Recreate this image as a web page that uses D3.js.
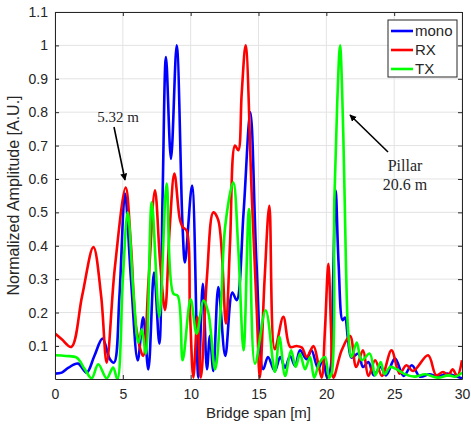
<!DOCTYPE html>
<html>
<head>
<meta charset="utf-8">
<script src="https://cdn.jsdelivr.net/npm/d3@7"></script>
<style>
  body { margin: 0; background: #fff; }
  text { font-family: "Liberation Sans", Arial, sans-serif; fill: #262626; }
</style>
</head>
<body>
<div id="chart"></div>
<script>
const WIDTH = 471, HEIGHT = 425;
const margin = { left: 55, right: 9, top: 12, bottom: 46 };

const xTicks = [0, 5, 10, 15, 20, 25, 30];
const yTicks = [0.1, 0.2, 0.3, 0.4, 0.5, 0.6, 0.7, 0.8, 0.9, 1, 1.1];

// mono (blue)
const monoX = [0, 0.5, 1.0, 1.7, 2.33, 2.9, 3.5, 4.05, 4.35, 4.75, 5.16, 5.6, 6.1, 6.5, 6.88, 7.3, 7.69, 7.93, 8.18, 8.55, 8.97, 9.4, 9.58, 10.1, 10.57, 10.9, 11.2, 11.42, 11.67, 12.04, 12.55, 13.07, 13.39, 13.9, 14.4, 14.85, 15.35, 15.7, 16.2, 16.6, 16.96, 17.33, 17.7, 18.06, 18.55, 18.9, 19.4, 19.75, 20.05, 20.3, 20.5, 20.69, 20.9, 21.2, 21.37, 21.6, 21.86, 22.36, 22.7, 23.1, 23.5, 24.0, 24.4, 25.06, 25.7, 26.3, 26.9, 27.6, 28.2, 28.9, 29.5, 30];
const monoY = [0.017, 0.02, 0.035, 0.047, 0.02, 0.07, 0.122, 0.06, 0.05, 0.25, 0.556, 0.3, 0.057, 0.186, 0.03, 0.32, 0.107, 0.55, 0.965, 0.66, 1.0, 0.46, 0.35, 0.58, 0.005, 0.286, 0.03, 0.13, 0.025, 0.276, 0.07, 0.26, 0.237, 0.5, 0.8, 0.35, 0.03, 0.067, 0.025, 0.067, 0.035, 0.07, 0.04, 0.087, 0.06, 0.087, 0.032, 0.06, 0.005, 0.03, 0.3, 0.566, 0.35, 0.177, 0.185, 0.12, 0.065, 0.077, 0.037, 0.052, 0.012, 0.037, 0.012, 0.062, 0.01, 0.042, 0.008, 0.015, 0.008, 0.017, 0.01, 0.003];

// RX (red)
const rxX = [0, 0.5, 1.2, 2.0, 2.83, 3.4, 3.81, 4.4, 5.21, 5.6, 6.0, 6.5, 6.9, 7.37, 7.75, 8.11, 8.45, 8.8, 9.2, 9.41, 9.7, 9.95, 10.2, 10.5, 10.75, 11.2, 11.67, 12.04, 12.6, 12.9, 13.27, 13.51, 13.76, 14.05, 14.5, 14.87, 15.1, 15.45, 15.8, 16.2, 16.83, 17.33, 17.8, 18.2, 18.55, 19.05, 19.4, 19.66, 19.9, 20.15, 20.35, 20.52, 21.13, 21.75, 22.2, 22.7, 23.1, 23.6, 24.1, 24.8, 25.4, 25.9, 26.4, 27.5, 28.1, 28.6, 29.0, 29.3, 29.65, 30];
const rxY = [0.137, 0.12, 0.097, 0.25, 0.396, 0.25, 0.05, 0.33, 0.574, 0.4, 0.15, 0.07, 0.3, 0.566, 0.35, 0.207, 0.45, 0.616, 0.48, 0.456, 0.446, 0.2, 0.005, 0.187, 0.005, 0.306, 0.5, 0.476, 0.167, 0.406, 0.7, 0.686, 0.855, 1.0, 0.556, 0.207, 0.005, 0.3, 0.52, 0.09, 0.187, 0.097, 0.1, 0.095, 0.067, 0.1, 0.047, 0.005, 0.15, 0.346, 0.15, 0.005, 0.087, 0.13, 0.037, 0.087, 0.01, 0.057, 0.01, 0.087, 0.017, 0.042, 0.025, 0.072, 0.012, 0.022, 0.012, 0.03, 0.01, 0.057];

// TX (green)
const txX = [0, 0.8, 1.6, 2.2, 2.7, 3.19, 3.81, 4.28, 4.6, 5.0, 5.36, 5.8, 6.15, 6.4, 6.7, 7.13, 7.69, 8.23, 8.72, 9.05, 9.41, 10.0, 10.44, 10.95, 11.3, 11.8, 12.2, 12.55, 13.14, 13.5, 13.9, 14.3, 14.74, 15.53, 16.21, 16.54, 16.96, 17.4, 17.74, 18.06, 18.43, 18.8, 19.1, 19.5, 19.9, 20.2, 20.4, 20.59, 20.81, 21.01, 21.25, 21.45, 21.62, 21.86, 22.24, 22.6, 23.2, 23.6, 24.0, 24.3, 24.7, 25.2, 25.7, 26.5, 27.3, 28.2, 29.0, 29.5, 30];
const txY = [0.072, 0.07, 0.065, 0.03, 0.003, 0.045, 0.003, 0.035, 0.0, 0.3, 0.5, 0.25, 0.11, 0.15, 0.077, 0.53, 0.187, 0.586, 0.257, 0.25, 0.057, 0.24, 0.137, 0.236, 0.2, 0.03, 0.2, 0.46, 0.59, 0.4, 0.087, 0.51, 0.047, 0.207, 0.022, 0.127, 0.01, 0.087, 0.037, 0.077, 0.03, 0.067, 0.005, 0.05, 0.067, 0.005, 0.02, 0.536, 0.835, 1.0, 0.735, 0.337, 0.137, 0.067, 0.11, 0.057, 0.077, 0.012, 0.052, 0.015, 0.037, 0.03, 0.017, 0.008, 0.015, 0.005, 0.012, 0.008, 0.02];

const seriesNames = ["mono", "RX", "TX"];
const seriesColors = ["#0000ff", "#ff0000", "#00ff00"];
const seriesX = [monoX, rxX, txX];
const seriesY = [monoY, rxY, txY];

const axisColor = "#262626";
const gridColor = "#e3e3e3";

const svg = d3.select("#chart").append("svg")
    .attr("width", WIDTH)
    .attr("height", HEIGHT);

const x = d3.scaleLinear().domain([0, 30]).range([margin.left, WIDTH - margin.right]);
const y = d3.scaleLinear().domain([0.001, 1.1]).range([HEIGHT - margin.bottom, margin.top]);

// grid
svg.append("g").selectAll("line").data(xTicks).join("line")
    .attr("x1", d => x(d)).attr("x2", d => x(d))
    .attr("y1", y.range()[0]).attr("y2", y.range()[1])
    .attr("stroke", gridColor).attr("stroke-width", 1);
svg.append("g").selectAll("line").data(yTicks).join("line")
    .attr("x1", x.range()[0]).attr("x2", x.range()[1])
    .attr("y1", d => y(d)).attr("y2", d => y(d))
    .attr("stroke", gridColor).attr("stroke-width", 1);

// clip
svg.append("clipPath").attr("id", "plotclip").append("rect")
    .attr("x", x.range()[0]).attr("y", y.range()[1])
    .attr("width", x.range()[1] - x.range()[0])
    .attr("height", y.range()[0] - y.range()[1]);

const line = d3.line()
    .x(d => x(d[0]))
    .y(d => y(d[1]))
    .curve(d3.curveCatmullRom.alpha(0.5));

const plot = svg.append("g").attr("clip-path", "url(#plotclip)");
seriesNames.forEach((name, i) => {
    const pts = seriesX[i].map((v, j) => [v, seriesY[i][j]]);
    plot.append("path")
        .datum(pts)
        .attr("d", line)
        .attr("fill", "none")
        .attr("stroke", seriesColors[i])
        .attr("stroke-width", 2.6)
        .attr("stroke-linejoin", "round");
});

// axes
const xAxis = d3.axisBottom(x).tickValues(xTicks).tickSizeInner(-4).tickSizeOuter(0).tickPadding(10);
const yAxis = d3.axisLeft(y).tickValues(yTicks).tickSizeInner(-4).tickSizeOuter(0).tickPadding(7)
    .tickFormat(d3.format("~g"));

const gx = svg.append("g").attr("transform", `translate(0,${y.range()[0]})`).call(xAxis);
const gy = svg.append("g").attr("transform", `translate(${x.range()[0]},0)`).call(yAxis);
const gxTop = svg.append("g").attr("transform", `translate(0,${y.range()[1]})`)
    .call(d3.axisTop(x).tickValues(xTicks).tickSizeInner(-4).tickSizeOuter(0).tickFormat(""));
const gyRight = svg.append("g").attr("transform", `translate(${x.range()[1]},0)`)
    .call(d3.axisRight(y).tickValues(yTicks).tickSizeInner(-4).tickSizeOuter(0).tickFormat(""));

[gx, gy, gxTop, gyRight].forEach(g => {
    g.select(".domain").attr("stroke", axisColor).attr("stroke-width", 1);
    g.selectAll(".tick line").attr("stroke", axisColor);
    g.selectAll(".tick text")
        .attr("fill", axisColor)
        .style("font-family", '"Liberation Sans", Arial, sans-serif')
        .style("font-size", "14px");
});

// axis labels
svg.append("text")
    .text("Bridge span [m]")
    .attr("x", (x.range()[0] + x.range()[1]) / 2)
    .attr("y", 418)
    .attr("text-anchor", "middle")
    .style("font-size", "15px");

svg.append("text")
    .text("Normalized Amplitude [A.U.]")
    .attr("transform", `translate(19,${(y.range()[0] + y.range()[1]) / 2}) rotate(-90)`)
    .attr("text-anchor", "middle")
    .style("font-size", "16px");

// annotations
const defs = svg.append("defs");
defs.append("marker")
    .attr("id", "arrowhead")
    .attr("viewBox", "0 0 10 10")
    .attr("refX", 9).attr("refY", 5)
    .attr("markerWidth", 7).attr("markerHeight", 7)
    .attr("markerUnits", "userSpaceOnUse")
    .attr("orient", "auto")
    .append("path")
    .attr("d", "M0,0 L10,5 L0,10 z")
    .attr("fill", "#000");

svg.append("line")
    .attr("x1", 114).attr("y1", 127)
    .attr("x2", 125).attr("y2", 180)
    .attr("stroke", "#000").attr("stroke-width", 1.6)
    .attr("marker-end", "url(#arrowhead)");
svg.append("text")
    .text("5.32 m")
    .attr("x", 118).attr("y", 122)
    .attr("text-anchor", "middle")
    .style("font-family", '"Liberation Serif", "Times New Roman", serif')
    .style("font-size", "15px")
    .attr("fill", "#222");

svg.append("line")
    .attr("x1", 388).attr("y1", 152)
    .attr("x2", 350).attr("y2", 115)
    .attr("stroke", "#000").attr("stroke-width", 1.6)
    .attr("marker-end", "url(#arrowhead)");
svg.append("text")
    .text("Pillar")
    .attr("x", 405).attr("y", 171)
    .attr("text-anchor", "middle")
    .style("font-family", '"Liberation Serif", "Times New Roman", serif')
    .style("font-size", "16px")
    .attr("fill", "#222");
svg.append("text")
    .text("20.6 m")
    .attr("x", 405).attr("y", 190)
    .attr("text-anchor", "middle")
    .style("font-family", '"Liberation Serif", "Times New Roman", serif')
    .style("font-size", "16px")
    .attr("fill", "#222");

// legend
const legend = svg.append("g").attr("transform", "translate(388,20)");
legend.append("rect")
    .attr("width", 69).attr("height", 57)
    .attr("fill", "#fff")
    .attr("stroke", axisColor).attr("stroke-width", 1);
const rows = legend.selectAll("g.row").data(seriesNames).join("g")
    .attr("class", "row")
    .attr("transform", (d, i) => `translate(0,${11 + i * 19})`);
rows.append("line")
    .attr("x1", 3).attr("x2", 25)
    .attr("stroke", (d, i) => seriesColors[i])
    .attr("stroke-width", 2.6);
rows.append("text")
    .text(d => d)
    .attr("x", 27).attr("y", 5)
    .style("font-size", "15px");
</script>
</body>
</html>
